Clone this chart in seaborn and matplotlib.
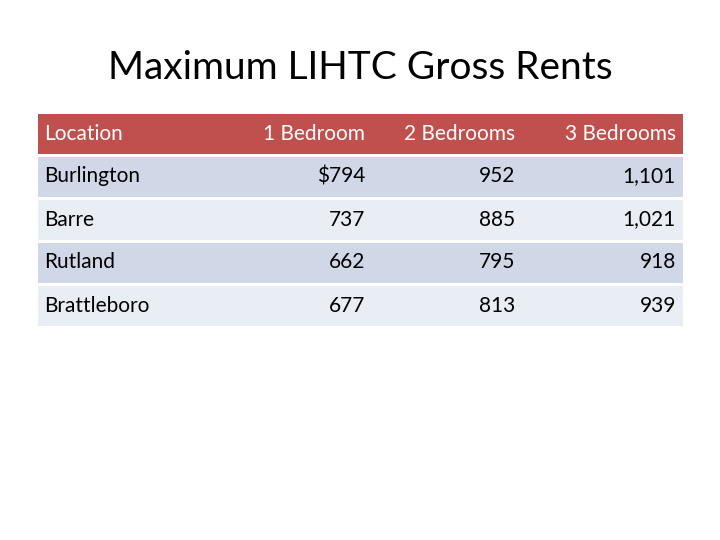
import matplotlib
matplotlib.use("Agg")
import matplotlib.pyplot as plt
import seaborn as sns
import numpy as np
from matplotlib.colors import ListedColormap

columns = ["Location", "1 Bedroom", "2 Bedrooms", "3 Bedrooms"]
locations = ["Burlington", "Barre", "Rutland", "Brattleboro"]
one_bed = ["$794", "737", "662", "677"]
two_bed = ["952", "885", "795", "813"]
three_bed = ["1,101", "1,021", "918", "939"]

sns.set_style("white")
plt.rcParams['font.family'] = ['Lato', 'DejaVu Sans']

fig = plt.figure(figsize=(7.2, 5.4), dpi=100)
L, R, T, B = 36, 684, 112, 327
hax = fig.add_axes([L/720, 1-B/540, (R-L)/720, (B-T)/540])
shade = np.array([[0], [1], [2], [1], [2]])
cmap = ListedColormap(["#C0504D", "#D0D8E8", "#E9EDF4"])
# heights: header 43, rows 43 each
sns.heatmap(shade, ax=hax, cmap=cmap, cbar=False, vmin=-0.5, vmax=2.5,
            linewidths=1, linecolor="white", xticklabels=False, yticklabels=False)
hax.axis("off")

ax = fig.add_axes([0, 0, 1, 1])
ax.set_xlim(0, 720); ax.set_ylim(540, 0); ax.axis("off")
ax.patch.set_alpha(0)
ax.text(360, 68, "Maximum LIHTC Gross Rents", ha="center", va="center", fontsize=28, color="black")

rowh = (B - T) / 5
xs = [44, 365, 515, 676]
has = ["left", "right", "right", "right"]
for j, c in enumerate(columns):
    ax.text(xs[j], T + rowh/2, c, ha=has[j], va="center", fontsize=15, color="white", fontweight="bold" if False else "normal")
for i in range(4):
    y = T + rowh*(i+1.5)
    vals = [locations[i], one_bed[i], two_bed[i], three_bed[i]]
    for j, v in enumerate(vals):
        ax.text(xs[j], y, v, ha=has[j], va="center", fontsize=15, color="black")

fig.savefig("out.png", dpi=100)
